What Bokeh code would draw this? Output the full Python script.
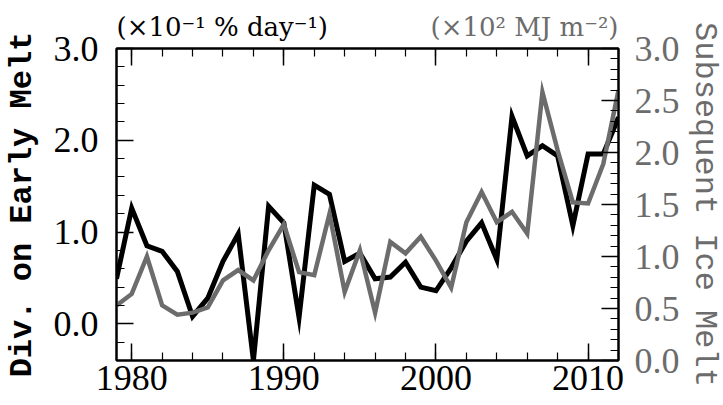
from bokeh.plotting import figure
from bokeh.models import (Range1d, LinearAxis, SingleIntervalTicker, FixedTicker,
                          PrintfTickFormatter, Title)
from bokeh.embed import file_html
from bokeh.resources import INLINE

years = list(range(1979, 2013))
early_melt = [0.49, 1.26, 0.85, 0.79, 0.57, 0.08, 0.28, 0.68, 0.98, -0.40,
              1.28, 1.10, 0.07, 1.51, 1.41, 0.68, 0.77, 0.49, 0.51, 0.67,
              0.40, 0.36, 0.61, 0.90, 1.10, 0.70, 2.26, 1.83, 1.94, 1.83,
              1.07, 1.85, 1.85, 2.25]
ice_melt = [0.53, 0.64, 1.00, 0.53, 0.44, 0.46, 0.51, 0.77, 0.87, 0.77,
            1.06, 1.31, 0.85, 0.82, 1.41, 0.66, 1.06, 0.46, 1.14, 1.03,
            1.19, 0.96, 0.70, 1.33, 1.62, 1.33, 1.43, 1.22, 2.58, 2.02,
            1.52, 1.51, 1.89, 2.60]

left_label = "Div. on Early Melt"
right_label = "Subsequent Ice Melt"
left_units = "(×10⁻¹ % day⁻¹)"
right_units = "(×10² MJ m⁻²)"

BLACK = "#000000"
GRAY = "#6c6c6c"
TICK_FONT = "Liberation Serif"
UNIT_FONT = "DejaVu Serif"
LABEL_FONT = "Liberation Mono"

p = figure(frame_width=502, frame_height=312,
           min_border_left=115, min_border_top=48, min_border_right=106, min_border_bottom=45,
           x_range=Range1d(years[0], years[-1]), y_range=Range1d(-0.40, 3.0),
           output_backend="svg", toolbar_location=None,
           x_axis_location=None, y_axis_location=None)
p.extra_y_ranges = {"right": Range1d(0.0, 3.0)}
p.xgrid.visible = False
p.ygrid.visible = False
p.outline_line_color = BLACK
p.outline_line_width = 2


def style_axis(ax, color=BLACK):
    ax.axis_line_color = BLACK
    ax.axis_line_width = 2
    ax.major_tick_line_color = BLACK
    ax.minor_tick_line_color = BLACK
    ax.major_tick_line_width = 1.5
    ax.minor_tick_line_width = 1.2
    ax.major_tick_in = 17
    ax.major_tick_out = 0
    ax.minor_tick_in = 8
    ax.minor_tick_out = 0
    ax.major_label_text_font = TICK_FONT
    ax.major_label_text_font_size = "36px"
    ax.major_label_text_color = color
    ax.axis_label_text_font = LABEL_FONT
    ax.axis_label_text_font_size = "32px"
    ax.axis_label_text_color = color
    ax.axis_label_text_font_style = "normal"


xb = LinearAxis(ticker=SingleIntervalTicker(interval=10, num_minor_ticks=5))
style_axis(xb)
xb.major_label_standoff = 5
p.add_layout(xb, "below")

# mirrored ticks on top, labels not drawn
xt = LinearAxis(ticker=SingleIntervalTicker(interval=10, num_minor_ticks=5))
style_axis(xt)
xt.major_label_text_font_size = "1px"
xt.major_label_text_color = None
p.add_layout(xt, "above")

# spacer axis (one white tick on white background) that lifts the unit notes above the frame
spacer = LinearAxis(ticker=FixedTicker(ticks=[1995.5], minor_ticks=[]))
spacer.axis_line_color = None
spacer.major_tick_in = -3
spacer.major_tick_out = 23
spacer.major_tick_line_color = "white"
spacer.major_tick_line_width = 1
spacer.minor_tick_in = 0
spacer.minor_tick_out = 0
spacer.major_label_text_font_size = "1px"
spacer.major_label_text_color = None
p.add_layout(spacer, "above")

yl = LinearAxis(ticker=SingleIntervalTicker(interval=1, num_minor_ticks=5),
                formatter=PrintfTickFormatter(format="%.1f"),
                axis_label=left_label)
style_axis(yl)
yl.axis_label_text_font_style = "bold"
yl.major_label_standoff = 18
yl.axis_label_standoff = 10
p.add_layout(yl, "left")

yr = LinearAxis(y_range_name="right",
                ticker=SingleIntervalTicker(interval=0.5, num_minor_ticks=5),
                formatter=PrintfTickFormatter(format="%.1f"),
                axis_label=right_label)
style_axis(yr, GRAY)
yr.major_label_standoff = 16
yr.axis_label_standoff = 3
p.add_layout(yr, "right")

# unit notes above the frame, sharing one row
p.add_layout(Title(text=left_units, align="left", standoff=-32, text_font=UNIT_FONT,
                   text_font_size="26px", text_font_style="normal", text_color=BLACK), "above")
p.add_layout(Title(text=right_units, align="right", standoff=-32, text_font=UNIT_FONT,
                   text_font_size="26px", text_font_style="normal", text_color=GRAY), "above")

p.line(years, early_melt, line_color=BLACK, line_width=5, line_join="miter")
p.line(years, ice_melt, line_color=GRAY, line_width=4.5, line_join="miter",
       y_range_name="right")

open("out.html", "w").write(file_html(p, INLINE))
